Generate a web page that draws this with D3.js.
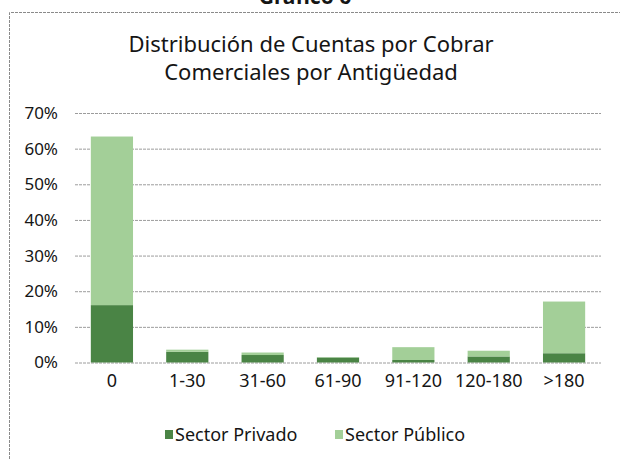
<!DOCTYPE html>
<html>
<head>
<meta charset="utf-8">
<script src="https://cdn.jsdelivr.net/npm/d3@7"></script>
<style>
  body { margin: 0; background: #fff; }
  text { font-family: "Noto Sans", "Open Sans", sans-serif; fill: #151515; }
</style>
</head>
<body>
<div id="chart"></div>
<script>
// Datos
var categories = ['0', '1-30', '31-60', '61-90', '91-120', '120-180', '>180'];
var seriesNames = ['Sector Privado', 'Sector Público'];
var privado = [16.1, 3.0, 2.1, 1.4, 0.7, 1.7, 2.6];
var publico = [47.3, 0.6, 0.7, 0.1, 3.6, 1.6, 14.5];
var yTicks = [0, 10, 20, 30, 40, 50, 60, 70];

var colors = ['#4a8445', '#a3cf98'];

var svgWidth = 620;
var svgHeight = 459;

var svg = d3.select('#chart').append('svg')
    .attr('width', svgWidth)
    .attr('height', svgHeight);

// Frame
svg.append('path')
    .attr('d', 'M9.5,459 V12.5 H620')
    .attr('fill', 'none')
    .attr('stroke', '#8a8a8a')
    .attr('stroke-dasharray', '3,1');

// Caption above the frame (cut off by the page edge, as in the scan)
svg.append('text')
    .attr('x', 305)
    .attr('y', 4)
    .attr('text-anchor', 'middle')
    .style('font-size', '21px')
    .style('font-weight', 'bold')
    .text('Gráfico 6');

// Title
svg.append('text')
    .attr('x', 311)
    .attr('y', 52)
    .attr('text-anchor', 'middle')
    .style('font-size', '22px')
    .text('Distribución de Cuentas por Cobrar');
svg.append('text')
    .attr('x', 311)
    .attr('y', 80)
    .attr('text-anchor', 'middle')
    .style('font-size', '22px')
    .text('Comerciales por Antigüedad');

var yScale = d3.scaleLinear()
    .domain([0, 70])
    .range([362.5, 113]);

var xScale = d3.scaleBand()
    .domain(categories)
    .range([75, 601])
    .paddingInner(0.44)
    .paddingOuter(0.21);

// Grid lines
svg.append('g')
    .selectAll('line')
    .data(yTicks)
    .enter().append('line')
        .attr('x1', 75)
        .attr('x2', 601)
        .attr('y1', (d) => yScale(d) + 0.5)
        .attr('y2', (d) => yScale(d) + 0.5)
        .attr('stroke', '#9c9c9c')
        .attr('stroke-dasharray', '3,1');

// Y axis
var yAxis = d3.axisLeft()
    .scale(yScale)
    .tickValues(yTicks)
    .tickSize(0)
    .tickPadding(0)
    .tickFormat((d) => d + '%');

svg.append('g')
    .attr('transform', 'translate(58,0)')
    .call(yAxis)
    .call((g) => g.select('.domain').remove())
    .selectAll('text')
        .style('font-size', '17px')
        .style('font-family', '"Noto Sans", sans-serif')
        .attr('fill', '#151515');

// Stacked bars
var table = categories.map((c, i) => ({cat: c, privado: privado[i], publico: publico[i]}));
var stacked = d3.stack().keys(['privado', 'publico'])(table);

svg.append('g')
    .selectAll('g')
    .data(stacked)
    .enter().append('g')
        .attr('fill', (d, i) => colors[i])
    .selectAll('rect')
    .data((d) => d)
    .enter().append('rect')
        .attr('x', (d) => xScale(d.data.cat))
        .attr('width', xScale.bandwidth())
        .attr('y', (d) => yScale(d[1]))
        .attr('height', (d) => yScale(d[0]) - yScale(d[1]));

// X axis labels
var xAxis = d3.axisBottom()
    .scale(xScale)
    .tickSize(0)
    .tickPadding(0);

svg.append('g')
    .attr('transform', 'translate(0,374)')
    .call(xAxis)
    .call((g) => g.select('.domain').remove())
    .selectAll('text')
        .style('font-size', '18px')
        .style('font-family', '"Noto Sans", sans-serif')
        .attr('fill', '#151515');

// Legend
var legendX = [165, 335];
var legend = svg.append('g')
    .selectAll('g')
    .data(seriesNames)
    .enter().append('g')
        .attr('transform', (d, i) => 'translate(' + legendX[i] + ',430)');

legend.append('rect')
    .attr('width', 8)
    .attr('height', 9)
    .attr('fill', (d, i) => colors[i]);

legend.append('text')
    .attr('x', 10)
    .attr('y', 11)
    .style('font-size', '18px')
    .text((d) => d);
</script>
</body>
</html>
